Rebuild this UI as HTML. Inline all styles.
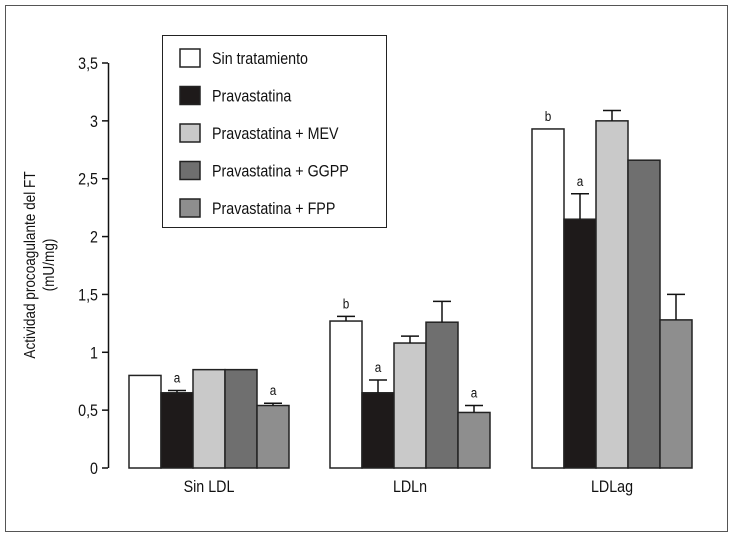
<!DOCTYPE html>
<html><head><meta charset="utf-8"><style>
body{margin:0;background:#fff}
svg{display:block;font-family:"Liberation Sans",sans-serif}
</style></head><body>
<svg id="chart" width="733" height="539">
<rect x="5.5" y="5.5" width="722" height="526" fill="#fff" stroke="#555" stroke-width="1"/>
<g id="yaxis"></g>
<g id="bars"></g>
<text transform="translate(35,265) rotate(-90) scale(0.85,1)" text-anchor="middle" font-size="16" fill="#111">Actividad procoagulante del FT</text>
<text transform="translate(54,265) rotate(-90) scale(0.85,1)" text-anchor="middle" font-size="16" fill="#111">(mU/mg)</text>
<g id="legend">
<rect x="162.5" y="35.5" width="224" height="192" fill="#fff" stroke="#222"/>
</g>
</svg>
<script>
const categories=["Sin LDL","LDLn","LDLag"];
const seriesNames=["Sin tratamiento","Pravastatina","Pravastatina + MEV","Pravastatina + GGPP","Pravastatina + FPP"];
const sinTratamiento=[0.80,1.27,2.93];
const pravastatina=[0.65,0.65,2.15];
const pravMEV=[0.85,1.08,3.00];
const pravGGPP=[0.85,1.26,2.66];
const pravFPP=[0.54,0.48,1.28];
const errSinTratamiento=[null,1.31,null];
const errPravastatina=[0.67,0.76,2.37];
const errPravMEV=[null,1.14,3.09];
const errPravGGPP=[null,1.44,null];
const errPravFPP=[0.56,0.54,1.50];
const sigSinTratamiento=["","b","b"];
const sigPravastatina=["a","a","a"];
const sigPravFPP=["a","a",""];
const yTicks=[0,0.5,1,1.5,2,2.5,3,3.5];
const yTickLabels=["0","0,5","1","1,5","2","2,5","3","3,5"];

const NS="http://www.w3.org/2000/svg";
function mk(t,a,p){const e=document.createElementNS(NS,t);for(const k in a)e.setAttribute(k,a[k]);p.appendChild(e);return e;}
function txt(px,py,a,p){const e=mk('text',a,p);e.setAttribute('transform',`translate(${px},${py}) scale(0.84,1)`);return e;}
const y=v=>468-v*(405/3.5);
const groupX=[129,330,532];
const bw=32;
const x=(g,s)=>groupX[g]+s*bw;
const fills=["#ffffff","#1e1a1a","#c9c9c9","#6f6f6f","#8e8e8e"];
const series=[sinTratamiento,pravastatina,pravMEV,pravGGPP,pravFPP];
const errs=[errSinTratamiento,errPravastatina,errPravMEV,errPravGGPP,errPravFPP];
const sigs=[sigSinTratamiento,sigPravastatina,null,null,sigPravFPP];

const ya=document.getElementById('yaxis');
const axl=mk('line',{x1:108.5,x2:108.5,y1:y(3.5),y2:y(0),stroke:'#111','stroke-width':1.5},ya);


yTicks.forEach((v,i)=>{
  const t=mk('line',{x1:102,x2:108,y1:y(v),y2:y(v),stroke:'#111','stroke-width':1.5},ya);
  
  
  const l=txt(98,y(v)+6,{'text-anchor':'end','font-size':17,fill:'#111'},ya);
  
  
  l.textContent=yTickLabels[i];
});

const bg=document.getElementById('bars');
categories.forEach((c,g)=>{
  series.forEach((arr,s)=>{
    const r=mk('rect',{x:x(g,s),y:y(arr[g]),width:bw,height:y(0)-y(arr[g]),fill:fills[s],stroke:'#222','stroke-width':1.5},bg);
    
    
    const e=errs[s][g];
    if(e!=null){
      const cx=x(g,s)+bw/2;
      const el=mk('path',{d:`M${cx},${y(arr[g])}V${y(e)}M${cx-9},${y(e)}H${cx+9}`,stroke:'#111','stroke-width':1.5,fill:'none'},bg);
      
      
    }
    if(sigs[s]&&sigs[s][g]){
      const top=e!=null?y(e):y(arr[g]);
      const t=txt(x(g,s)+bw/2,top-8,{'text-anchor':'middle','font-size':14,fill:'#111'},bg);
      
      
      t.textContent=sigs[s][g];
    }
  });
  const cl=txt(groupX[g]+bw*2.5,492,{'text-anchor':'middle','font-size':17,fill:'#111'},bg);
  
  
  cl.textContent=c;
});

const lg=document.getElementById('legend');
seriesNames.forEach((n,i)=>{
  const cy=58+i*37.5;
  const sw=mk('rect',{x:180,y:cy-9,width:20,height:18,fill:fills[i],stroke:'#222','stroke-width':1.5},lg);
  
  
  const t=txt(212,cy+6,{'font-size':17,fill:'#111'},lg);
  
  
  t.textContent=n;
});
</script>
</body></html>
